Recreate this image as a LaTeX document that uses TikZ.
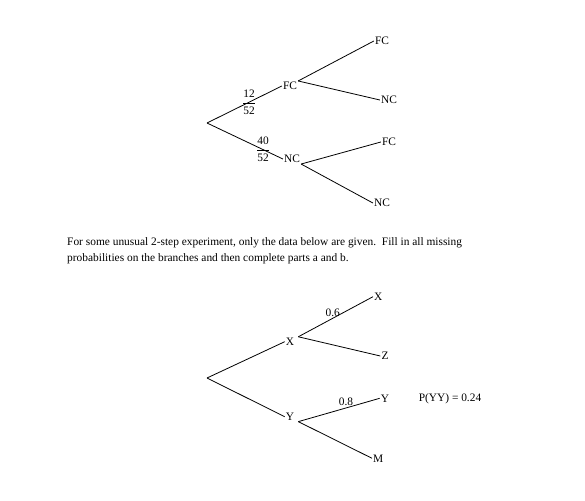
\documentclass[tikz,border=0pt]{standalone}
\usepackage{fontspec}
\setmainfont{Liberation Serif}
\begin{document}
\begin{tikzpicture}[x=1pt,y=-1pt,
  lbl/.style={inner sep=1pt, font=\fontsize{11.4}{13}\selectfont},
  frac/.style={inner sep=0pt, font=\fontsize{11.4}{13}\selectfont},
  para/.style={inner sep=0pt, anchor=base west, font=\fontsize{11.4}{16}\selectfont},
  br/.style={line width=0.8pt}]
\useasboundingbox (0,0) rectangle (585,500);
% top tree
\coordinate (r1) at (207,123);
\node[lbl] (fc) at (290,86) {FC};
\node[lbl] (nc) at (292,159) {NC};
\node[lbl] (fcfc) at (382,41) {FC};
\node[lbl] (fcnc) at (389,100) {NC};
\node[lbl] (ncfc) at (389,142) {FC};
\node[lbl] (ncnc) at (382,203) {NC};
\draw[br] (r1) -- (fc.west);
\draw[br] (r1) -- (nc.west);
\draw[br] (fc.north east) -- (fcfc.west);
\draw[br] (fc.north east) -- (fcnc.west);
\draw[br] (nc.south east) -- (ncfc.west);
\draw[br] (nc.south east) -- (ncnc.west);
\node[frac] (f1) at (249,103) {\renewcommand\arraystretch{1.25}\begin{tabular}{@{}c@{}}12\\\hline 52\end{tabular}};
\node[frac] (f2) at (263,150) {\renewcommand\arraystretch{1.25}\begin{tabular}{@{}c@{}}40\\\hline 52\end{tabular}};
% paragraph
\node[para] (p1) at (67,245) {For some unusual 2-step experiment, only the data below are given.\ \ Fill in all missing};
\node[para] (p2) at (67,261) {probabilities on the branches and then complete parts a and b.};
% bottom tree
\coordinate (r2) at (207,378);
\node[lbl] (x) at (290,341.7) {X};
\node[lbl] (y) at (290,416.7) {Y};
\node[lbl] (xx) at (378.3,296.7) {X};
\node[lbl] (xz) at (385,356) {Z};
\node[lbl] (yy) at (385,398.3) {Y};
\node[lbl] (ym) at (378.3,458.3) {M};
\draw[br] (r2) -- (x.west);
\draw[br] (r2) -- (y.west);
\draw[br] ([xshift=3pt]x.north east) -- (xx.west);
\draw[br] ([xshift=3pt]x.north east) -- (xz.west);
\draw[br] ([xshift=3pt]y.south east) -- (yy.west);
\draw[br] ([xshift=3pt]y.south east) -- (ym.west);
\node[lbl] (l06) at (332.7,312.3) {0.6};
\node[lbl] (l08) at (346,401.7) {0.8};
\node[lbl] (pyy) at (450,398.3) {P(YY) = 0.24};
\end{tikzpicture}
\end{document}
